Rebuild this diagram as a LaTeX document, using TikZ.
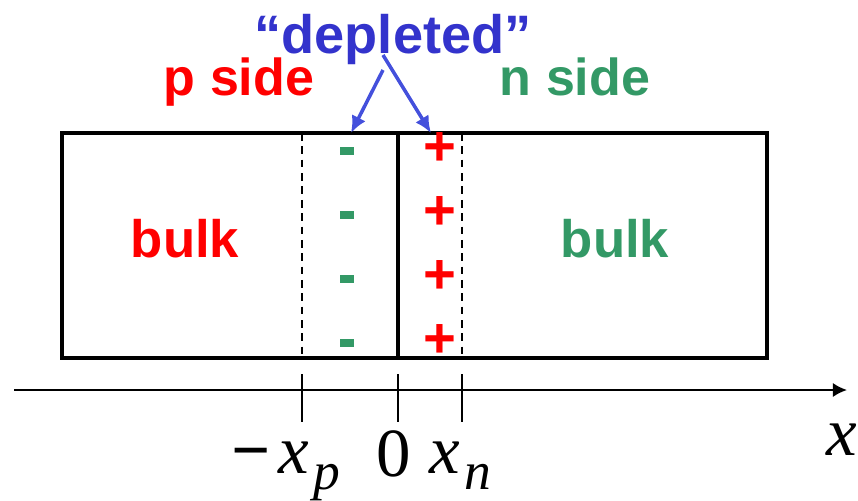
\documentclass[tikz,border=0pt]{standalone}
\usepackage{fontspec}
\setmainfont{Liberation Sans}
\newfontfamily\serifa{Liberation Serif}
\usetikzlibrary{arrows.meta}
\definecolor{rojo}{RGB}{255,0,0}
\definecolor{verde}{RGB}{51,153,102}
\definecolor{azul}{RGB}{51,51,204}
\definecolor{azulflecha}{RGB}{68,80,220}
\newcommand{\tampx}[1]{\fontsize{#1}{#1}\selectfont}
\begin{document}
\begin{tikzpicture}[x=0.025cm, y=-0.025cm,
        rotulo/.style={inner sep=0, anchor=base, font=\bfseries\tampx{37pt}},
        grande/.style={inner sep=0, anchor=base, font=\bfseries\tampx{37.5pt}},
        carga/.style={inner sep=0, font=\bfseries\tampx{40pt}},
        menos/.style={inner sep=0, fill=verde, minimum width=10.5pt, minimum height=5pt},
        formula/.style={inner sep=0, anchor=base west, font=\serifa\tampx{49pt}},
        flecha/.style={line width=2.5pt, azulflecha, -{Latex[length=12pt,width=11pt]}},
        eje/.style={line width=1.4pt, -{Latex[length=10pt,width=10pt]}},
        limite/.style={line width=1.8pt, dash pattern=on 5.5pt off 4pt}
    ]
        \useasboundingbox (0,0) rectangle (858,501);
        % muestra
        \draw[line width=3.2pt] (62,133) rectangle (767,358);
        \draw[line width=2.6pt] (398,133) -- (398,358);
        \draw[limite] (302,133) -- (302,358);
        \draw[limite] (462,133) -- (462,358);
        % cargas
        \foreach \y in {151,215,279,343}
            \node[menos] (menos\y) at (347,\y) {};
        \foreach \y in {149,213,277,341}
            \node[carga, rojo] (mas\y) at (440,\y) {+};
        % textos
        \node[rotulo, rojo] (ladop) at (239,95) {p side};
        \node[rotulo, verde] (ladon) at (575,95) {n side};
        \node[grande, rojo] (bulkp) at (185,257) {bulk};
        \node[grande, verde] (bulkn) at (615,257) {bulk};
        \node[grande, azul, font=\bfseries\tampx{38.5pt}] (agotada) at (393,53) {“depleted”};
        \coordinate (inicioa) at (383,70);
        \coordinate (iniciob) at (383,55);
        \coordinate (puntamenos) at (351,133);
        \coordinate (puntamas) at (431,133);
        \draw[flecha] (inicioa) -- (puntamenos);
        \draw[flecha] (iniciob) -- (puntamas);
        % eje x
        \coordinate (ejeinicio) at (14,390);
        \coordinate (ejefin) at (847,390);
        \draw[eje] (ejeinicio) -- (ejefin);
        \foreach \x in {302,398,462}
            \draw[line width=1.4pt] (\x,374) -- (\x,422);
        \node[formula] (xp) at (231,473)
            {\textbf{−}\kern6pt\textit{x}\kern3pt\raisebox{-12pt}{\tampx{38pt}\textit{p}}};
        \node[formula, anchor=base] (cero) at (394,476) {0};
        \node[formula] (xn) at (429,473)
            {\textit{x}\kern3pt\raisebox{-12pt}{\tampx{38pt}\textit{n}}};
        \node[formula, anchor=base] (equis) at (842,455) {\textit{x}};
    \end{tikzpicture}
\end{document}
